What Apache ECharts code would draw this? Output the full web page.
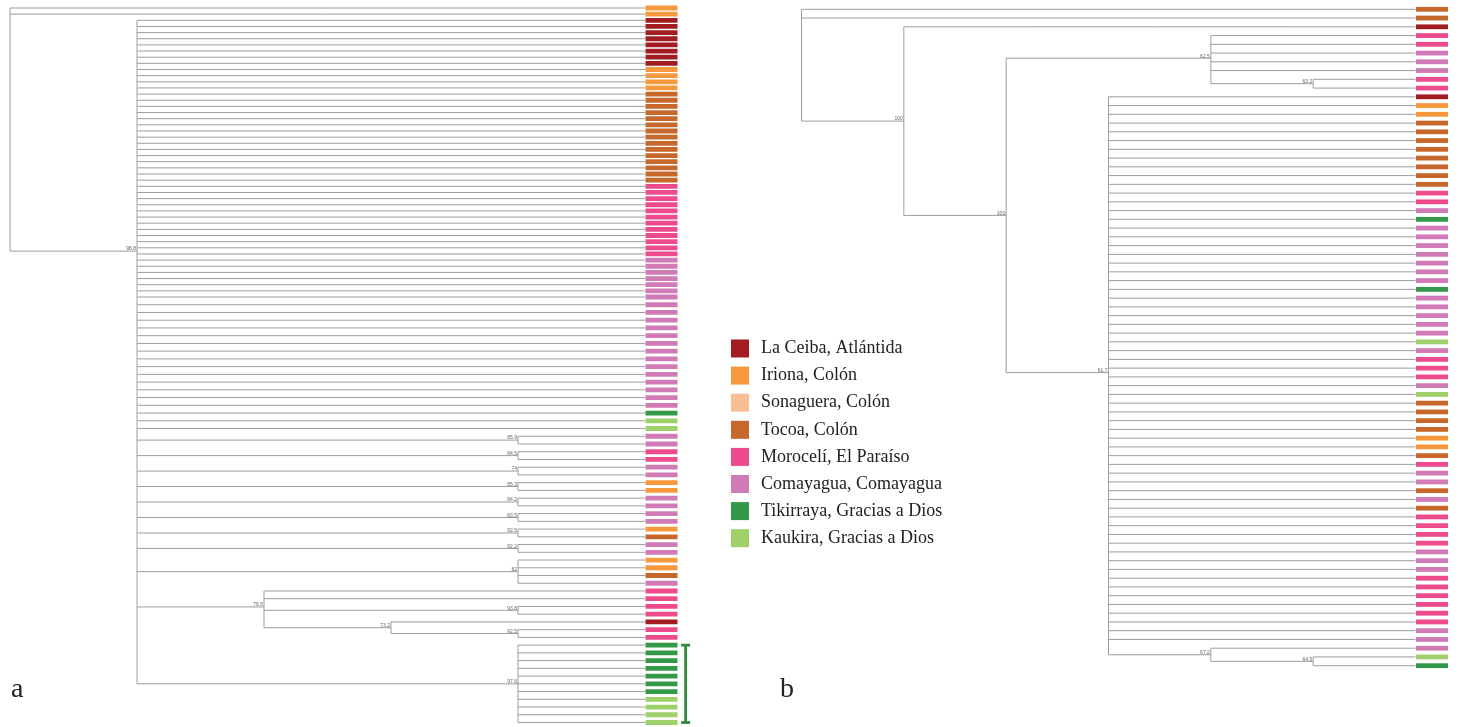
<!DOCTYPE html>
<html><head><meta charset="utf-8">
<script src="https://cdn.jsdelivr.net/npm/echarts@6/dist/echarts.min.js"></script>
<style>html,body{margin:0;padding:0;background:#fff}#c{width:1458px;height:727px}</style>
</head><body><div id="c"></div>
<script>
// ---- categories (sampling locations) ----
const locationNames = ['La Ceiba, Atlántida','Iriona, Colón','Sonaguera, Colón','Tocoa, Colón','Morocelí, El Paraíso','Comayagua, Comayagua','Tikirraya, Gracias a Dios','Kaukira, Gracias a Dios'];
const locationCodes = ['LC','IR','SO','TO','MO','CO','TI','KA'];
const locationColors = ['#a11d22','#f6993d','#f8bf95','#c6682b','#ee4b8d','#d07bb5','#33994a','#a0d06a'];

// ---- tree a: leaf locations, top to bottom ----
const leavesA = [
 'IR','IR',
 'LC','LC','LC','LC','LC','LC','LC','LC',
 'IR','IR','IR','IR',
 'TO','TO','TO','TO','TO','TO','TO','TO','TO','TO','TO','TO','TO','TO','TO',
 'MO','MO','MO','MO','MO','MO','MO','MO','MO','MO','MO','MO',
 'CO','CO','CO','CO','CO','CO','CO','CO','CO','CO','CO','CO','CO','CO','CO','CO','CO','CO','CO','CO','CO',
 'TI','KA','KA',
 'CO','CO','MO','MO','CO','CO','IR','IR','CO','CO','CO','CO','IR','TO','CO','CO',
 'IR','IR','TO','CO',
 'MO','MO','MO','MO','LC','MO','MO',
 'TI','TI','TI','TI','TI','TI','TI','KA','KA','KA','KA'
];
// topology (Newick-like, * = next leaf, *n = n sibling leaves, number after ")" = support value)
const topologyA = '(*2,(*63,(*2)85.9,(*2)84.5,(*2)74,(*2)85.3,(*2)84.2,(*2)83.5,(*2)82.5,(*2)82.2,(*4)82,(*2,(*2)93.8,(*,(*2)92.5)73.2)78.5,(*11)97.6)98.8)';
// panel a rows: spacing of the reference changes after this row
const rowBreakA = 48;
// clade marked with the green bracket (first, last leaf)
const bracketA = [93, 103];

// ---- tree b ----
const leavesB = [
 'TO','TO','LC','MO','MO','CO','CO','CO','MO','MO','LC','IR','IR',
 'TO','TO','TO','TO','TO','TO','TO','TO','MO','MO','CO','TI',
 'CO','CO','CO','CO','CO','CO','CO','TI','CO','CO','CO','CO','CO','KA','CO',
 'MO','MO','MO','CO','KA','TO','TO','TO','TO','IR','IR',
 'TO','MO','CO','CO','TO','CO','TO','MO','MO','MO','MO','CO','CO','CO',
 'MO','MO','MO','MO','MO','MO','CO','CO','CO','KA','TI'
];
const topologyB = '(*2,(*,((*5,(*2)63.2)62.5,(*63,(*,(*2)64.5)67.2)61.7)100)100)';

// ---------- helpers ----------
function parseTree(str){
  let i=0, leaf=0;
  function item(){
    if(str[i]==='('){
      i++; const children=[];
      while(true){
        children.push(...item());
        if(str[i]===','){i++;continue;}
        if(str[i]===')'){i++;break;}
        throw new Error('bad tree at '+i);
      }
      let label='';
      while(i<str.length && /[0-9.]/.test(str[i])) label+=str[i++];
      return [{children,label}];
    }
    if(str[i]==='*'){
      i++; let n='';
      while(i<str.length && /[0-9]/.test(str[i])) n+=str[i++];
      const k=n?+n:1, out=[];
      for(let j=0;j<k;j++) out.push({leaf:++leaf});
      return out;
    }
    throw new Error('bad tree at '+i);
  }
  return item()[0];
}
function layoutTree(root){
  (function h(n){
    if(!n.children){n.h=0;n.y=n.leaf;return;}
    n.children.forEach(h);
    n.h=1+Math.max(...n.children.map(c=>c.h));
    n.y=n.children.reduce((s,c)=>s+c.y,0)/n.children.length;
  })(root);
  const H=root.h;
  (function x(n){n.x=H-n.h; if(n.children) n.children.forEach(x);})(root);
  const segs=[], labels=[];
  (function w(n){
    if(!n.children) return;
    const ys=n.children.map(c=>c.y);
    segs.push([n.x,Math.min(...ys),n.x,Math.max(...ys)]);
    n.children.forEach(c=>{segs.push([n.x,c.y,c.x,c.y]); w(c);});
    if(n.label) labels.push([n.x,n.y,n.label]);
  })(root);
  return {H,segs,labels};
}
function gridOf(y, ranges){
  for(let g=0;g<ranges.length;g++) if(y>=ranges[g][0]&&y<=ranges[g][1]) return g;
  return -1;
}
function splitSegs(segs, ranges){
  return ranges.map(([lo,hi],g)=>segs.flatMap(s=>{
    if(s[1]===s[3]) return gridOf(s[1],ranges)===g?[s]:[];
    const a=Math.max(s[1],lo), b=Math.min(s[3],hi);
    return b>a?[[s[0],a,s[2],b]]:[];
  }));
}

const treeA=layoutTree(parseTree(topologyA));
const treeB=layoutTree(parseTree(topologyB));
const rangesA=[[1,rowBreakA],[rowBreakA,leavesA.length]];

const LINE='#9d9d9d';
function lineSeries(g,data){
  return {type:'custom',xAxisIndex:g,yAxisIndex:g,silent:true,data,encode:{x:[0,2],y:[1,3]},
    renderItem:(p,api)=>{
      const a=api.coord([api.value(0),api.value(1)]), b=api.coord([api.value(2),api.value(3)]);
      return {type:'line',shape:{x1:a[0],y1:a[1],x2:b[0],y2:b[1]},style:{stroke:LINE,lineWidth:1}};
    }};
}
function labelSeries(g,labels){
  return {type:'custom',xAxisIndex:g,yAxisIndex:g,silent:true,data:labels.map(l=>[l[0],l[1]]),
    renderItem:(p,api)=>{
      const a=api.coord([api.value(0),api.value(1)]);
      return {type:'text',x:a[0]-1,y:a[1]+0.5,style:{text:labels[p.dataIndex][2],fontSize:5,fontFamily:'Liberation Sans',fill:'#666',align:'right',verticalAlign:'bottom'}};
    }};
}
function barSeries(g,name,color,data){
  return {type:'custom',name,xAxisIndex:g,yAxisIndex:g,silent:true,itemStyle:{color},data,encode:{x:0,y:1},
    renderItem:(p,api)=>{
      const a=api.coord([api.value(0),api.value(1)]);
      const h=4.8;
      return {type:'rect',shape:{x:a[0]+0.5,y:a[1]-h/2,width:32,height:h},style:{fill:api.visual('color')}};
    }};
}

const series=[];
splitSegs(treeA.segs,rangesA).forEach((d,g)=>series.push(lineSeries(g,d)));
series.push(lineSeries(2,treeB.segs));
rangesA.forEach((r,g)=>series.push(labelSeries(g,treeA.labels.filter(l=>gridOf(l[1],rangesA)===g))));
series.push(labelSeries(2,treeB.labels));
locationCodes.forEach((code,k)=>{
  rangesA.forEach((r,g)=>{
    const d=[]; leavesA.forEach((c,i)=>{ if(c===code && gridOf(i+1,rangesA)===g) d.push([treeA.H,i+1]); });
    series.push(barSeries(g,locationNames[k],locationColors[k],d));
  });
  const d=[]; leavesB.forEach((c,i)=>{ if(c===code) d.push([treeB.H,i+1]); });
  series.push(barSeries(2,locationNames[k],locationColors[k],d));
});
series.push({type:'custom',xAxisIndex:1,yAxisIndex:1,silent:true,data:[[treeA.H,bracketA[0],bracketA[1]]],
  renderItem:(p,api)=>{
    const a=api.coord([api.value(0),api.value(1)]), b=api.coord([api.value(0),api.value(2)]);
    const x=a[0]+40.6, st={stroke:'#2e8b3e',lineWidth:2.8};
    return {type:'group',children:[
      {type:'line',shape:{x1:x,y1:a[1],x2:x,y2:b[1]},style:st},
      {type:'line',shape:{x1:x-4.5,y1:a[1],x2:x+4.5,y2:a[1]},style:st},
      {type:'line',shape:{x1:x-4.5,y1:b[1],x2:x+4.5,y2:b[1]},style:st}]};
  }});

const option={
  animation:false,
  backgroundColor:'#fff',
  grid:[
    {left:10,top:8,width:635,height:289},
    {left:10,top:297,width:635,height:425.5},
    {left:801.5,top:9.3,width:614,height:656.4}
  ],
  xAxis:[
    {gridIndex:0,type:'value',min:0,max:treeA.H,show:false},
    {gridIndex:1,type:'value',min:0,max:treeA.H,show:false},
    {gridIndex:2,type:'value',min:0,max:treeB.H,show:false}
  ],
  yAxis:[
    {gridIndex:0,type:'value',min:rangesA[0][0],max:rangesA[0][1],inverse:true,show:false},
    {gridIndex:1,type:'value',min:rangesA[1][0],max:rangesA[1][1],inverse:true,show:false},
    {gridIndex:2,type:'value',min:1,max:leavesB.length,inverse:true,show:false}
  ],
  legend:{orient:'vertical',left:731,top:339.5,padding:0,itemWidth:18,itemHeight:18,itemGap:9.1,icon:'rect',selectedMode:false,
    data:locationNames,
    textStyle:{fontFamily:'Liberation Serif',fontSize:18,color:'#222',padding:[0,0,0,7]}},
  graphic:[
    {type:'text',x:11,y:690,style:{text:'a',font:'28px "Liberation Serif"',fill:'#222',verticalAlign:'middle'}},
    {type:'text',x:780,y:690,style:{text:'b',font:'28px "Liberation Serif"',fill:'#222',verticalAlign:'middle'}}
  ],
  series
};
const chart=echarts.init(document.getElementById('c'));
chart.setOption(option);
</script></body></html>
